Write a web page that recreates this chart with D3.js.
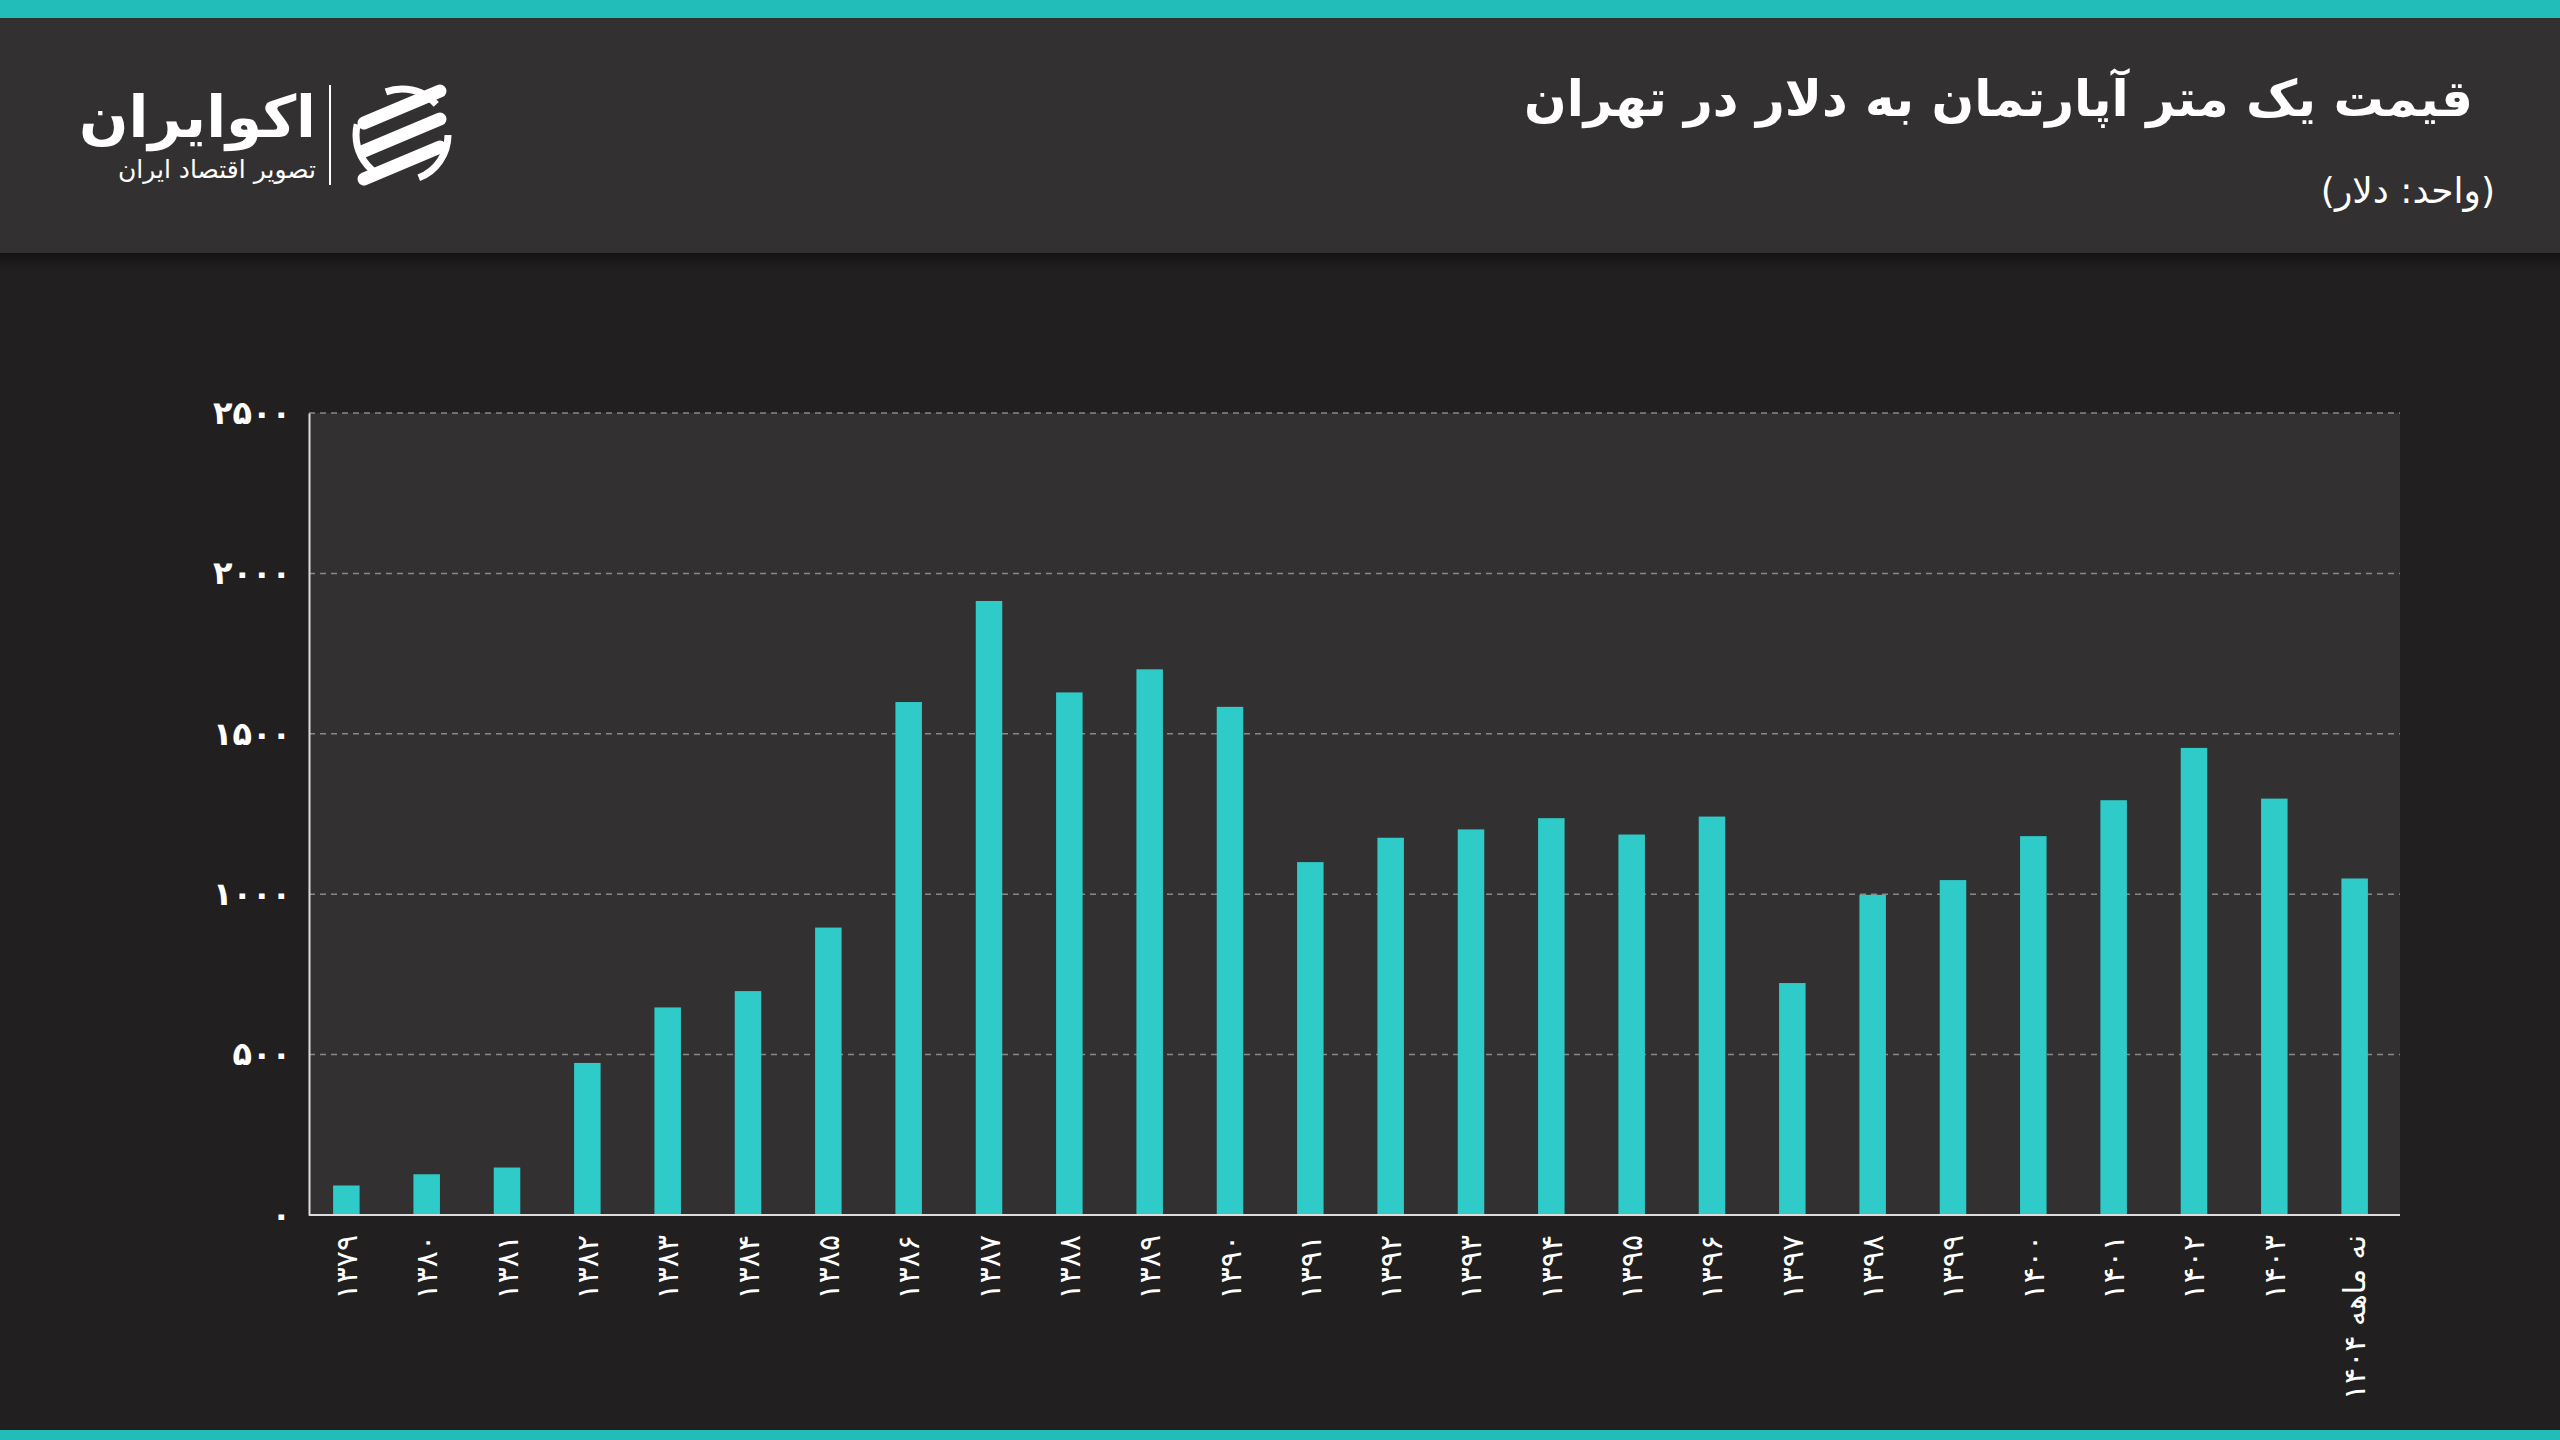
<!DOCTYPE html>
<html><head><meta charset="utf-8">
<script src="https://cdn.jsdelivr.net/npm/d3@7"></script>
<style>body{margin:0;background:#221f20;}svg{display:block}</style>
</head><body>
<svg id="c" width="2560" height="1440"></svg>
<script>
const categories=["۱۳۷۹","۱۳۸۰","۱۳۸۱","۱۳۸۲","۱۳۸۳","۱۳۸۴","۱۳۸۵","۱۳۸۶","۱۳۸۷","۱۳۸۸","۱۳۸۹","۱۳۹۰","۱۳۹۱","۱۳۹۲","۱۳۹۳","۱۳۹۴","۱۳۹۵","۱۳۹۶","۱۳۹۷","۱۳۹۸","۱۳۹۹","۱۴۰۰","۱۴۰۱","۱۴۰۲","۱۴۰۳","نه ماهه ۱۴۰۴"];
const values=[92,127,148,474,647,698,896,1599,1914,1629,1701,1584,1100,1176,1202,1237,1186,1242,723,998,1044,1181,1293,1456,1298,1049];
const yTicks=[0,500,1000,1500,2000,2500];
const yTickLabels=["۰","۵۰۰","۱۰۰۰","۱۵۰۰","۲۰۰۰","۲۵۰۰"];
const title="قیمت یک متر آپارتمان به دلار در تهران";
const subtitle="(واحد: دلار)";

const svg=d3.select("#c");
const F="'DejaVu Sans', sans-serif";
svg.append("rect").attr("width",2560).attr("height",1440).attr("fill","#221f20");
const g0=svg.append("defs").append("linearGradient").attr("id","sh").attr("x1",0).attr("x2",0).attr("y1",0).attr("y2",1);
g0.append("stop").attr("offset",0).attr("stop-color","#111").attr("stop-opacity",0.9);
g0.append("stop").attr("offset",1).attr("stop-color","#221f20").attr("stop-opacity",0);
svg.append("rect").attr("y",253).attr("width",2560).attr("height",24).attr("fill","url(#sh)");
svg.append("rect").attr("y",0).attr("width",2560).attr("height",253).attr("fill","#333031");
svg.append("rect").attr("y",0).attr("width",2560).attr("height",18).attr("fill","#22bcb9");
svg.append("rect").attr("y",1430).attr("width",2560).attr("height",10).attr("fill","#22bcb9");

svg.append("text").text(title).attr("x",2473).attr("y",116).attr("text-anchor","start")
 .attr("direction","rtl").attr("fill","#fff").attr("font-family",F).attr("font-weight","bold").attr("font-size",50);
svg.append("text").text(subtitle).attr("x",2495).attr("y",203).attr("text-anchor","start")
 .attr("direction","rtl").attr("fill","#fff").attr("font-family",F).attr("font-size",36);

const lg=svg.append("g");
lg.append("text").text("اکوایران").attr("x",316).attr("y",137).attr("text-anchor","start").attr("direction","rtl")
 .attr("fill","#fff").attr("font-family",F).attr("font-weight","bold").attr("font-size",58);
lg.append("text").text("تصویر اقتصاد ایران").attr("x",316).attr("y",178).attr("text-anchor","start").attr("direction","rtl")
 .attr("fill","#fff").attr("font-family",F).attr("font-size",25);
lg.append("line").attr("x1",330).attr("x2",330).attr("y1",85).attr("y2",185).attr("stroke","#fff").attr("stroke-width",2);
const ic=lg.append("g").attr("transform","translate(402,135)");
[-28,0,28].forEach(d=>ic.append("path").attr("d",`M${-38},${d+16} L${38},${d-16}`).attr("stroke","#fff").attr("stroke-width",13).attr("stroke-linecap","round"));
ic.append("circle").attr("r",46).attr("fill","none").attr("stroke","#fff").attr("stroke-width",7).attr("stroke-dasharray","55 45");

const x0=309,x1=2400,yTop=413,yBot=1215;
svg.append("rect").attr("x",x0).attr("y",yTop).attr("width",x1-x0).attr("height",yBot-yTop).attr("fill","#333031");
const x=d3.scaleBand().domain(categories).range([x0,x1-8]).paddingInner(0.67).paddingOuter(0.3);
const y=d3.scaleLinear().domain([0,2500]).range([yBot,yTop]);
svg.append("g").selectAll("line").data(yTicks.slice(1)).join("line")
 .attr("x1",x0).attr("x2",x1).attr("y1",d=>y(d)).attr("y2",d=>y(d))
 .attr("stroke","#8a8788").attr("stroke-width",1.5).attr("stroke-dasharray","6 5");
svg.append("g").selectAll("rect").data(values).join("rect")
 .attr("x",(d,i)=>x(categories[i])).attr("width",x.bandwidth())
 .attr("y",d=>y(d)).attr("height",d=>yBot-y(d)).attr("fill","#2fcbc9");
const ya=svg.append("g").attr("transform",`translate(${x0},0)`)
 .call(d3.axisLeft(y).tickValues(yTicks).tickFormat((d,i)=>yTickLabels[i]).tickSize(0).tickPadding(18));
ya.select(".domain").attr("stroke","#ddd").attr("stroke-width",2);
ya.selectAll("text").attr("fill","#fff").attr("font-family",F).attr("font-weight","bold").attr("font-size",32);
const xa=svg.append("g").attr("transform",`translate(0,${yBot})`)
 .call(d3.axisBottom(x).tickSize(0).tickPadding(0));
xa.select(".domain").attr("stroke","#ddd").attr("stroke-width",2).attr("d",`M${x0},0H${x1}`);
xa.selectAll("text").attr("fill","#fff").attr("font-family",F).attr("font-size",30)
 .attr("transform","rotate(-90)").attr("text-anchor","end")
 .attr("x",-20).attr("y",0).attr("dy","0.35em");
</script>
</body></html>
